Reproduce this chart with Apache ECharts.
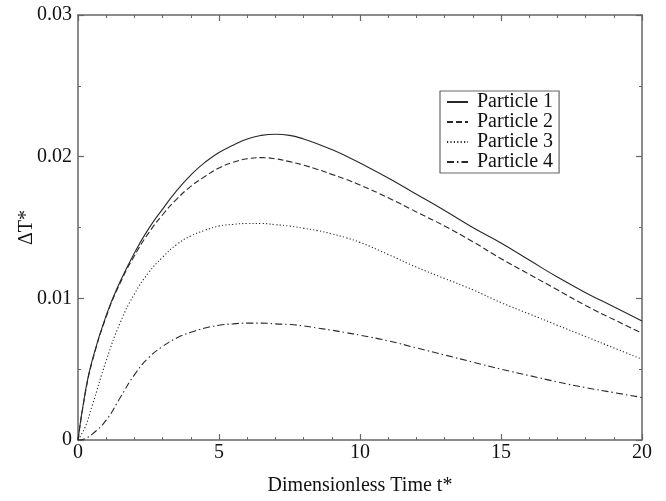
<!DOCTYPE html>
<html>
<head>
<meta charset="utf-8">
<script src="https://cdn.jsdelivr.net/npm/echarts@6/dist/echarts.min.js"></script>
<style>html,body{margin:0;padding:0;background:#fff}#c{width:666px;height:501px}</style>
</head>
<body>
<div id="c"></div>
<script>
const times = [0,0.25,0.5,1,1.5,2,2.5,3,3.5,4,4.5,5,5.5,6,6.5,7,7.5,8,8.5,9,9.5,10,11,12,13,14,15,16,17,18,19,20];
const particle1 = [0,0.0033,0.0056,0.0088,0.0112,0.0132,0.0149,0.0163,0.0176,0.0187,0.0196,0.0203,0.0208,0.02125,0.0215,0.02158,0.0215,0.02125,0.0209,0.0205,0.02005,0.01955,0.0185,0.01735,0.0162,0.0150,0.0139,0.0127,0.0115,0.0104,0.0094,0.0084];
const particle2 = [0,0.0032,0.0055,0.0087,0.0111,0.0130,0.0146,0.0159,0.0170,0.0179,0.0186,0.0192,0.0196,0.01985,0.01993,0.01985,0.01965,0.0194,0.0191,0.01875,0.0184,0.0180,0.0171,0.0161,0.0151,0.0140,0.0128,0.0117,0.0106,0.0095,0.0085,0.00755];
const particle3 = [0,0.0009,0.0024,0.0056,0.0083,0.0103,0.0118,0.0129,0.0138,0.0144,0.0148,0.0151,0.01522,0.01528,0.01528,0.0152,0.0151,0.01495,0.01478,0.01455,0.01428,0.01395,0.0131,0.0122,0.0114,0.0106,0.0097,0.0089,0.0081,0.0073,0.0065,0.0057];
const particle4 = [0,0.0001,0.0004,0.0014,0.0030,0.0046,0.0058,0.0066,0.0072,0.0076,0.0079,0.0081,0.0082,0.00825,0.00825,0.0082,0.00815,0.00805,0.0079,0.00775,0.00758,0.0074,0.0070,0.0065,0.0060,0.0055,0.0050,0.00455,0.0041,0.0037,0.00335,0.0030];
const seriesNames = ['Particle 1','Particle 2','Particle 3','Particle 4'];
const xTitle = 'Dimensionless Time t*';
const yTitle = 'ΔT*';

const font = 'Liberation Serif';
const axisColor = '#666';
const lineColor = '#282828';
const dashes = ['solid', [6,3], [1.2,2.2], [7,3,1.5,3]];
const allData = [particle1, particle2, particle3, particle4];

function pairs(arr){ return times.map((t,i)=>[t, arr[i]]); }

const chart = echarts.init(document.getElementById('c'), null, {renderer:'canvas'});
const baseX = {
  type:'value', min:0, max:20, interval:5,
  axisLine:{show:true, onZero:false, lineStyle:{color:axisColor, width:1.5}},
  axisTick:{show:true, inside:true, length:6, lineStyle:{color:axisColor, width:1.2}},
  minorTick:{show:true, splitNumber:5, length:3, lineStyle:{color:axisColor, width:1}},
  splitLine:{show:false}
};
const baseY = {
  type:'value', min:0, max:0.03, interval:0.01,
  axisLine:{show:true, onZero:false, lineStyle:{color:axisColor, width:1.5}},
  axisTick:{show:true, inside:true, length:6, lineStyle:{color:axisColor, width:1.2}},
  minorTick:{show:true, splitNumber:2, length:3, lineStyle:{color:axisColor, width:1}},
  splitLine:{show:false}
};
chart.setOption({
  animation:false,
  backgroundColor:'#fff',
  grid:{left:78, right:24, top:15, bottom:58},
  legend:{
    show:true,
    orient:'vertical', left:440, top:91,
    data:seriesNames,
    itemWidth:21, itemHeight:10, itemGap:0,
    padding:[1,6,1,6],
    borderColor:'#666', borderWidth:1.2,
    backgroundColor:'#fff',
    itemStyle:{opacity:0, borderWidth:0},
    textStyle:{fontFamily:font, fontSize:20, color:'#111', lineHeight:19.5, padding:[0,0,0,4]}
  },
  xAxis:[
    Object.assign({}, baseX, {position:'bottom', name:xTitle, nameLocation:'middle', nameGap:36,
      nameTextStyle:{fontFamily:font, fontSize:20, color:'#111'},
      axisLabel:{show:true, margin:3, fontFamily:font, fontSize:20, color:'#111'}}),
    Object.assign({}, baseX, {position:'top', axisLabel:{show:false}})
  ],
  yAxis:[
    Object.assign({}, baseY, {position:'left', name:yTitle, nameLocation:'middle', nameGap:41,
      nameMoveOverlap:false,
      nameTextStyle:{fontFamily:font, fontSize:20, color:'#111'},
      axisLabel:{show:true, margin:6, fontFamily:font, fontSize:20, color:'#111',
        formatter:v=> v===0 ? '0' : v.toFixed(2)}}),
    Object.assign({}, baseY, {position:'right', axisLabel:{show:false}})
  ],
  series: seriesNames.map((n,i)=>({
    name:n, type:'line', xAxisIndex:0, yAxisIndex:0,
    data:pairs(allData[i]), smooth:true, symbol:'none', showSymbol:false,
    lineStyle:{color:lineColor, width:1.1, type:dashes[i]},
    itemStyle:{color:lineColor}
  }))
});
</script>
</body>
</html>
